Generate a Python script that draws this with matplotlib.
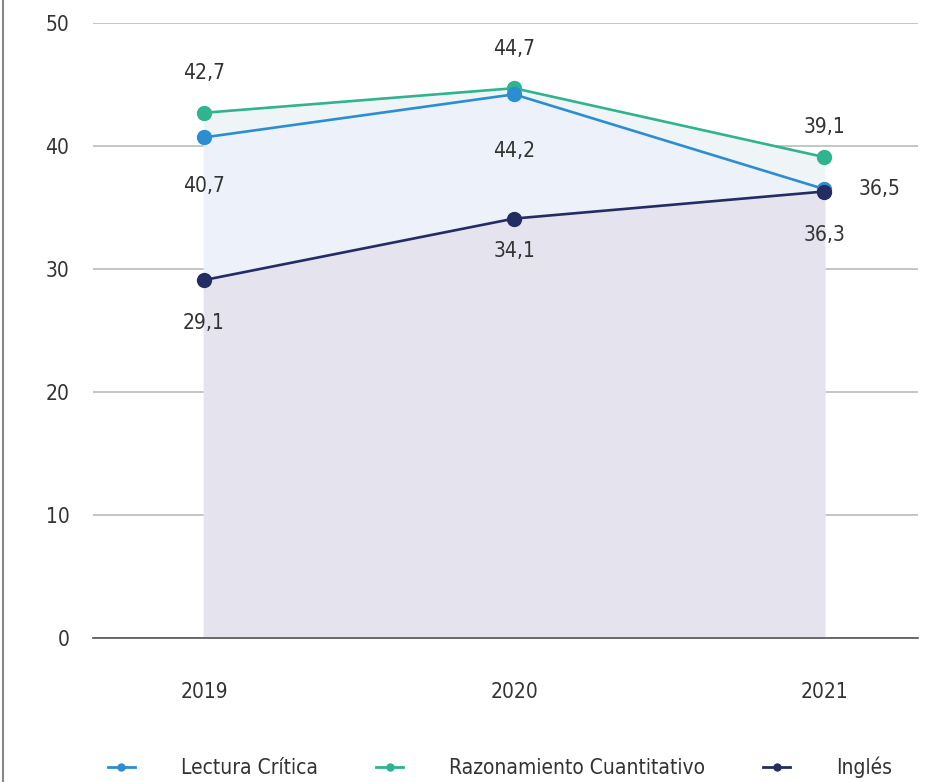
import numpy as np
import matplotlib.pyplot as plt
from matplotlib.lines import Line2D

plt.rcParams['font.family'] = ['DejaVu Sans']
plt.rcParams['font.stretch'] = 'condensed'

# Puntajes promedio por área
anios = ['2019', '2020', '2021']
lectura = [40.7, 44.2, 36.5]
razonamiento = [42.7, 44.7, 39.1]
ingles = [29.1, 34.1, 36.3]

c_lec = '#2B8ED2'
c_raz = '#30B38F'
c_ing = '#232D63'
txt = '#333333'

fig = plt.figure(figsize=(9.33, 7.82), dpi=100)
ax = fig.add_axes([0.0997, 0.1841, 0.8843, 0.7865])
x = np.arange(len(anios))

# areas sombreadas bajo cada serie
ax.fill_between(x, razonamiento, color='#EFF5F6', zorder=1)
ax.fill_between(x, lectura, color='#ECF1FA', zorder=1)
ax.fill_between(x, ingles, color='#E4E3EE', zorder=1)

ax.plot(x, lectura, color=c_lec, lw=1.9, marker='o', ms=10, label='Lectura Crítica', zorder=4)
ax.plot(x, razonamiento, color=c_raz, lw=1.9, marker='o', ms=10, label='Razonamiento Cuantitativo', zorder=3)
ax.plot(x, ingles, color=c_ing, lw=1.9, marker='o', ms=10, label='Inglés', zorder=5)

def fmt(v):
    return f'{v:.1f}'.replace('.', ',')

fs = 15
# desplazamiento (puntos) de cada etiqueta respecto a su marcador
off_raz = [(0, 29), (0, 28), (0, 22)]
off_lec = [(0, -35), (0, -41), (40, 0)]
off_ing = [(0, -31), (0, -23), (0, -31)]

for serie, offs in ((razonamiento, off_raz), (lectura, off_lec), (ingles, off_ing)):
    for i, v in enumerate(serie):
        ax.annotate(fmt(v), (x[i], v), xytext=offs[i], textcoords='offset points',
                    ha='center', va='center', fontsize=fs, color=txt)

ax.set_xlim(-0.358, 2.303)
ax.set_ylim(0, 50)
ax.set_xticks(x)
ax.set_xticklabels(anios)
ax.set_yticks([0, 10, 20, 30, 40, 50])
ax.tick_params(axis='both', length=0, labelsize=fs, labelcolor=txt)
ax.tick_params(axis='x', pad=32)
ax.tick_params(axis='y', pad=17)
ax.grid(axis='y', color='#BBBBBB', lw=1.2, zorder=0)
ax.set_axisbelow(True)
for s in ['top', 'right', 'left']:
    ax.spines[s].set_visible(False)
ax.spines['bottom'].set_color('#555555')
ax.spines['bottom'].set_linewidth(1.2)
ax.spines['bottom'].set_zorder(6)

# borde izquierdo
fig.add_artist(Line2D([0.003, 0.003], [0, 1], color='#888888', lw=1.5))

handles = [Line2D([], [], color=c, lw=2, marker='o', ms=5) for c in (c_lec, c_raz, c_ing)]
fig.legend(handles, ['Lectura Crítica', 'Razonamiento Cuantitativo', 'Inglés'],
           loc='center', bbox_to_anchor=(0.536, 0.019), ncol=3, frameon=False,
           fontsize=fs, handlelength=1.3, handletextpad=2.2, columnspacing=2.8,
           labelcolor=txt)

fig.savefig('out.png', dpi=100)
